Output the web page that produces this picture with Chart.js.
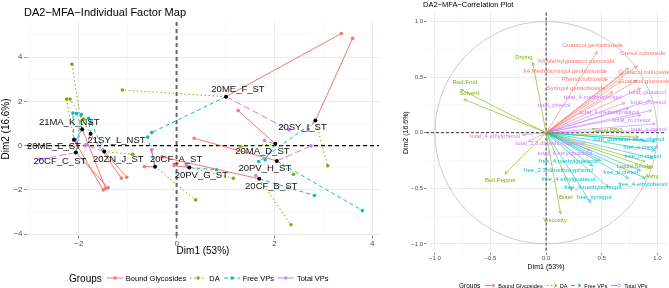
<!DOCTYPE html>
<html>
<head>
<meta charset="utf-8">
<script src="https://cdn.jsdelivr.net/npm/chart.js@4.4.1/dist/chart.umd.min.js"></script>
<style>
body { margin:0; width:669px; height:288px; position:relative; background:#fff; overflow:hidden;
       font-family:"Liberation Sans", Arial, sans-serif; }
#leftWrap { position:absolute; left:0; top:0; width:385px; height:288px; }
#rightWrap { position:absolute; left:385px; top:0; width:284px; height:288px; }
.title { position:absolute; white-space:nowrap; color:#000; }
.legend { position:absolute; display:flex; align-items:center; white-space:nowrap; color:#000; }
.legend svg { display:block; }
</style>
</head>
<body>
<div id="leftWrap"><canvas id="mapChart"></canvas></div>
<div id="rightWrap"><canvas id="corChart"></canvas></div>
<div class="title" style="left:24px;top:6px;font-size:11px;line-height:13px">DA2−MFA−Individual Factor Map</div>
<div class="title" style="left:423px;top:0px;font-size:7.5px;line-height:9px">DA2−MFA−Correlation Plot</div>
<div class="legend" id="leftLegend" style="left:69px;top:272px;height:12px"></div>
<div class="legend" id="rightLegend" style="left:459px;top:281px;height:9px"></div>
<script>
// ====== DATA ======
const groupNames = ["Bound Glycosides", "DA", "Free VPs", "Total VPs"];
const groupColors = ["#F8766D", "#7CAE00", "#00BFC4", "#C77CFF"];
const groupDash = [[], [1.5, 2.5], [4, 3], [7, 3]];

// individuals (group centroids)
const individuals = ["21MA_K_NST", "21SY_L_NST", "20ME_E_ST", "20CF_C_ST", "20ZN_J_ST", "20CF_A_ST",
                     "20PV_G_ST", "20ME_F_ST", "20SY_I_ST", "20MA_D_ST", "20PV_H_ST", "20CF_B_ST"];
const indDim1 = [-1.93, -1.76, -2.10, -2.06, -1.48, -0.44, 0.26, 1.01, 2.84, 2.02, 2.05, 1.69];
const indDim2 = [0.74, 0.53, 0.26, -0.31, -0.27, -0.95, -0.99, 2.21, 1.13, 0.08, -0.69, -1.50];
// label nudges in px (text centre relative to point)
const indLabelDx = [-13, 26, -20, -16, 14, 21, 12, 12, -13, -13, -12, 12];
const indLabelDy = [-7, 7, 7, 9, 8, -7, 8, -7, 7, 8, 7, 8];

// partial points per group
const boundDim1 = [-1.45, -1.13, -1.50, -1.40, -1.02, -0.66, -0.05, 3.37, 3.60, 1.26, 0.36, -0.30];
const boundDim2 = [-1.93, -1.47, -2.00, -1.90, -1.43, -0.95, -0.90, 5.06, 4.84, 1.58, 0.33, -0.51];
const daDim1 = [-2.14, -2.18, -2.25, -1.90, -0.90, 0.39, 1.16, -1.11, 3.09, 1.30, 2.39, 2.34];
const daDim2 = [3.67, 2.10, 2.10, 1.20, -0.39, -2.45, -1.47, 2.51, -0.91, -0.04, -1.29, -3.57];
const freeDim1 = [-2.05, -1.80, -2.12, -1.95, -1.75, -0.59, 0.82, -0.51, 1.68, 1.81, 3.80, 2.82];
const freeDim2 = [1.45, 1.23, 1.47, 1.40, 1.05, 0.39, -1.09, 0.59, -0.72, -0.64, -2.93, -2.25];
const totalDim1 = [-2.07, -1.84, -2.05, -2.80, -1.86, -0.51, 0.20, 2.30, 2.69, 1.80, 2.75, 1.62];
const totalDim2 = [0.25, 0.05, 0.15, -0.62, 0.02, -0.19, -0.90, 0.71, 0.71, 0.23, -0.01, -1.35];

const mapXTicks = [-3, -2, -1, 0, 1, 2, 3, 4];
const mapXLabels = ["", "−2", "", "0", "", "2", "", "4"];
const mapYTicks = [-4, -3, -2, -1, 0, 1, 2, 3, 4, 5];
const mapYLabels = ["−4", "", "−2", "", "0", "", "2", "", "4", ""];

// correlation circle variables
const boundVars = ["Guaiacol.gentiobioside", "Cresol.rutinoside", "X4.Methylguaiacol.rutinoside",
  "X4.Methylsyringol.gentiobioside", "Guaiacol.rutinoside", "Phenol.rutinoside", "Guaiacol.glucoside",
  "Syringol.gentiobioside"];
const boundVarDim1 = [0.46, 0.82, 0.74, 0.69, 0.82, 0.67, 0.85, 0.60];
const boundVarDim2 = [0.73, 0.60, 0.58, 0.53, 0.47, 0.46, 0.40, 0.37];
const boundLabDim1 = [0.42, 0.87, 0.27, 0.17, 0.88, 0.35, 0.89, 0.27];
const boundLabDim2 = [0.79, 0.71, 0.64, 0.55, 0.54, 0.48, 0.46, 0.40];

const daVars = ["Drying", "Red.Fruit", "Solvent", "Bell.Pepper", "Bitter", "Viscosity", "Ashy",
  "Liquid.Smoke", "Sweet.BBQ"];
const daVarDim1 = [-0.12, -0.77, -0.74, -0.37, 0.23, 0.13, 0.94, 0.89, 0.83];
const daVarDim2 = [0.63, 0.39, 0.30, -0.37, -0.52, -0.73, -0.32, -0.26, -0.04];
const daLabDim1 = [-0.20, -0.73, -0.69, -0.41, 0.18, 0.08, 0.95, 0.80, 0.55];
const daLabDim2 = [0.68, 0.45, 0.35, -0.43, -0.58, -0.79, -0.39, -0.30, 0.02];

const freeVars = ["free_guaiacol", "free_phenol", "free_o.cresol", "free_m.cresol", "free_4.methylguaiacol",
  "free_2.3.dimethoxyphenol", "free_p.cresol", "free_4.ethylguaiacol", "free_4.ethylphenol",
  "free_4.methylsyringol", "free_syringol"];
const freeVarDim1 = [0.89, 0.98, 0.98, 0.96, 0.49, 0.42, 0.85, 0.74, 0.89, 0.56, 0.40];
const freeVarDim2 = [-0.07, -0.08, -0.16, -0.23, -0.25, -0.30, -0.34, -0.41, -0.41, -0.49, -0.63];
const freeLabDim1 = [0.59, 0.92, 0.85, 0.87, 0.20, 0.11, 0.67, 0.20, 0.87, 0.42, 0.43];
const freeLabDim2 = [-0.06, -0.06, -0.13, -0.21, -0.26, -0.34, -0.36, -0.42, -0.46, -0.49, -0.58];

const totalVars = ["total_guaiacol", "total_4.methylsyringol", "total_phenol", "total_p.cresol",
  "total_4.methylguaiacol", "total_m.cresol", "total_o.cresol", "total_4.ethylphenol",
  "total_2.3.dimethoxyphenol", "total_4.ethylguaiacol"];
const totalVarDim1 = [0.94, 0.71, 0.74, 0.95, 0.85, 0.98, 1.00, -0.21, -0.16, 0.40];
const totalVarDim2 = [0.29, 0.27, 0.22, 0.20, 0.16, 0.08, 0.02, -0.02, -0.08, -0.16];
const totalLabDim1 = [0.91, 0.42, 0.07, 0.92, 0.57, 0.77, 0.92, -0.46, 0.04, 0.17];
const totalLabDim2 = [0.36, 0.32, 0.25, 0.27, 0.18, 0.11, 0.03, -0.03, -0.10, -0.19];

const corTicks = [-1, -0.75, -0.5, -0.25, 0, 0.25, 0.5, 0.75, 1];
const corLabels = ["−1.0", "", "−0.5", "", "0.0", "", "0.5", "", "1.0"];

Chart.defaults.font.family = '"Liberation Sans", Arial, sans-serif';
Chart.defaults.animation = false;

// ====== HELPERS ======
function gridOpts(labels, tickLen) {
  return {
    color: ctx => labels[ctx.index] ? "#e6e6e6" : "#f3f3f3",
    lineWidth: ctx => labels[ctx.index] ? 0.8 : 0.5,
    tickColor: ctx => labels[ctx.index] ? "#333" : "rgba(0,0,0,0)",
    tickLength: tickLen,
    tickWidth: 0.6
  };
}

// dashed lines through origin
const zeroLines = {
  id: "zeroLines",
  beforeDatasetsDraw(chart, args, opts) {
    const {ctx, chartArea: a, scales: {x, y}} = chart;
    const x0 = x.getPixelForValue(0), y0 = y.getPixelForValue(0);
    ctx.save();
    ctx.strokeStyle = opts.vColor; ctx.lineWidth = opts.vWidth; ctx.setLineDash(opts.dash);
    ctx.beginPath(); ctx.moveTo(x0, a.top); ctx.lineTo(x0, a.bottom); ctx.stroke();
    ctx.strokeStyle = opts.hColor; ctx.lineWidth = opts.hWidth;
    ctx.beginPath(); ctx.moveTo(a.left, y0); ctx.lineTo(a.right, y0); ctx.stroke();
    if (opts.circle) {
      ctx.setLineDash([]);
      ctx.strokeStyle = "#aaaaaa"; ctx.lineWidth = 0.6;
      const r = x.getPixelForValue(1) - x0;
      ctx.beginPath(); ctx.arc(x0, y0, r, 0, Math.PI * 2); ctx.stroke();
    }
    ctx.restore();
  }
};

// ====== LEFT: INDIVIDUAL FACTOR MAP ======
function partialData(px, py) {
  const pts = [];
  individuals.forEach((n, i) => {
    pts.push({x: indDim1[i], y: indDim2[i]});
    pts.push({x: px[i], y: py[i]});
    pts.push({x: px[i], y: null});
  });
  return pts;
}
const partials = [[boundDim1, boundDim2], [daDim1, daDim2], [freeDim1, freeDim2], [totalDim1, totalDim2]];

const indLabels = {
  id: "indLabels",
  afterDatasetsDraw(chart) {
    const {ctx, scales: {x, y}} = chart;
    ctx.save();
    ctx.font = '9.5px "Liberation Sans", Arial, sans-serif';
    ctx.fillStyle = "#111";
    ctx.textAlign = "center"; ctx.textBaseline = "middle";
    individuals.forEach((n, i) => {
      ctx.fillText(n, x.getPixelForValue(indDim1[i]) + indLabelDx[i], y.getPixelForValue(indDim2[i]) + indLabelDy[i]);
    });
    ctx.restore();
  }
};

const mapDatasets = [{
  label: "Individuals",
  data: individuals.map((n, i) => ({x: indDim1[i], y: indDim2[i]})),
  pointRadius: 2, pointBackgroundColor: "#000", pointBorderWidth: 0, showLine: false
}];
groupNames.forEach((g, k) => {
  mapDatasets.push({
    label: g,
    data: partialData(partials[k][0], partials[k][1]),
    showLine: true,
    borderColor: groupColors[k], backgroundColor: groupColors[k],
    borderWidth: 1, borderDash: groupDash[k],
    pointRadius: c => c.index % 3 === 1 ? 1.8 : 0,
    pointBorderWidth: 0
  });
});

new Chart(document.getElementById("mapChart"), {
  type: "scatter",
  data: {datasets: mapDatasets},
  options: {
    responsive: true, maintainAspectRatio: false,
    layout: {padding: {top: 22, right: 6, bottom: 30.3, left: 0}},
    plugins: {
      legend: {display: false}, tooltip: {enabled: false},
      zeroLines: {vColor: "#666", vWidth: 2, hColor: "#000", hWidth: 1.1, dash: [4, 3]}
    },
    scales: {
      x: {
        type: "linear", min: -3.06, max: 4.14,
        afterBuildTicks: s => { s.ticks = mapXTicks.map(v => ({value: v})); },
        afterFit: s => { s.height = 21.7; },
        ticks: {autoSkip: false, maxRotation: 0, padding: 0, color: "#4d4d4d", font: {size: 8},
                callback: (v, i) => mapXLabels[i]},
        grid: gridOpts(mapXLabels, 2.5), border: {display: false},
        title: {display: true, text: "Dim1 (53%)", color: "#000", font: {size: 10}, padding: 0}
      },
      y: {
        type: "linear", min: -4.08, max: 5.58,
        afterBuildTicks: s => { s.ticks = mapYTicks.map(v => ({value: v})); },
        afterFit: s => { s.width = 27; },
        ticks: {autoSkip: false, padding: 2, color: "#4d4d4d", font: {size: 8},
                callback: (v, i) => mapYLabels[i]},
        grid: gridOpts(mapYLabels, 2.5), border: {display: false},
        title: {display: true, text: "Dim2 (16.6%)", color: "#000", font: {size: 10}, padding: {top: 0}}
      }
    }
  },
  plugins: [zeroLines, indLabels]
});

// ====== RIGHT: CORRELATION PLOT ======
const corGroups = [
  [boundVars, boundVarDim1, boundVarDim2, boundLabDim1, boundLabDim2],
  [daVars, daVarDim1, daVarDim2, daLabDim1, daLabDim2],
  [freeVars, freeVarDim1, freeVarDim2, freeLabDim1, freeLabDim2],
  [totalVars, totalVarDim1, totalVarDim2, totalLabDim1, totalLabDim2]
];

function arrowData(d1, d2) {
  const pts = [];
  d1.forEach((v, i) => {
    pts.push({x: 0, y: 0});
    pts.push({x: d1[i], y: d2[i]});
    pts.push({x: 0, y: null});
  });
  return pts;
}

const arrowHeads = {
  id: "arrowHeads",
  afterDatasetsDraw(chart) {
    const {ctx, scales: {x, y}} = chart;
    const x0 = x.getPixelForValue(0), y0 = y.getPixelForValue(0);
    ctx.save();
    ctx.lineWidth = 0.6;
    corGroups.forEach((grp, k) => {
      ctx.strokeStyle = groupColors[k];
      grp[1].forEach((v, i) => {
        const tx = x.getPixelForValue(grp[1][i]), ty = y.getPixelForValue(grp[2][i]);
        const ang = Math.atan2(ty - y0, tx - x0);
        ctx.beginPath();
        ctx.moveTo(tx - 3.5 * Math.cos(ang - 0.45), ty - 3.5 * Math.sin(ang - 0.45));
        ctx.lineTo(tx, ty);
        ctx.lineTo(tx - 3.5 * Math.cos(ang + 0.45), ty - 3.5 * Math.sin(ang + 0.45));
        ctx.stroke();
      });
    });
    ctx.font = '6px "Liberation Sans", Arial, sans-serif';
    ctx.textAlign = "center"; ctx.textBaseline = "middle";
    corGroups.forEach((grp, k) => {
      ctx.fillStyle = groupColors[k];
      grp[0].forEach((n, i) => {
        ctx.fillText(n, x.getPixelForValue(grp[3][i]), y.getPixelForValue(grp[4][i]));
      });
    });
    ctx.restore();
  }
};

new Chart(document.getElementById("corChart"), {
  type: "scatter",
  data: {
    datasets: corGroups.map((grp, k) => ({
      label: groupNames[k],
      data: arrowData(grp[1], grp[2]),
      showLine: true, borderColor: groupColors[k], borderWidth: 0.6, pointRadius: 0
    }))
  },
  options: {
    responsive: true, maintainAspectRatio: false,
    layout: {padding: {top: 12.6, right: 2.8, bottom: 17.1, left: 0}},
    plugins: {
      legend: {display: false}, tooltip: {enabled: false},
      zeroLines: {vColor: "#000", vWidth: 0.8, hColor: "#000", hWidth: 0.8, dash: [3, 2], circle: true}
    },
    scales: {
      x: {
        type: "linear", min: -1.08, max: 1.08,
        afterBuildTicks: s => { s.ticks = corTicks.map(v => ({value: v})); },
        afterFit: s => { s.height = 18.1; },
        ticks: {autoSkip: false, maxRotation: 0, padding: 0, color: "#4d4d4d", font: {size: 6},
                callback: (v, i) => corLabels[i]},
        grid: gridOpts(corLabels, 2), border: {display: false},
        title: {display: true, text: "Dim1 (53%)", color: "#000", font: {size: 7}, padding: 0}
      },
      y: {
        type: "linear", min: -1.08, max: 1.08,
        afterBuildTicks: s => { s.ticks = corTicks.map(v => ({value: v})); },
        afterFit: s => { s.width = 41; },
        ticks: {autoSkip: false, padding: 1, color: "#4d4d4d", font: {size: 6},
                callback: (v, i) => corLabels[i]},
        grid: gridOpts(corLabels, 2), border: {display: false},
        title: {display: true, text: "Dim2 (16.6%)", color: "#000", font: {size: 7}, padding: {top: 17}}
      }
    }
  },
  plugins: [zeroLines, arrowHeads]
});

// ====== LEGENDS ======
function buildLegend(el, titleSize, itemSize, keyW, gap, withDot) {
  let html = `<span style="font-size:${titleSize}px;margin-right:${gap + 1}px">Groups</span>`;
  groupNames.forEach((g, k) => {
    const h = Math.round(titleSize);
    const dash = groupDash[k].length ? `stroke-dasharray="${groupDash[k].join(" ")}"` : "";
    const dot = withDot ? `<circle cx="${keyW / 2}" cy="${h / 2}" r="${withDot}" fill="${groupColors[k]}"/>` : "";
    const arrow = withDot ? "" :
      `<polyline points="${keyW - 3},${h / 2 - 2} ${keyW},${h / 2} ${keyW - 3},${h / 2 + 2}" fill="none" stroke="${groupColors[k]}" stroke-width="0.8"/>`;
    html += `<svg width="${keyW}" height="${h}"><line x1="0" y1="${h / 2}" x2="${keyW}" y2="${h / 2}" stroke="${groupColors[k]}" stroke-width="1" ${dash}/>${dot}${arrow}</svg>`;
    html += `<span style="font-size:${itemSize}px;margin:0 ${gap}px 0 3px">${g}</span>`;
  });
  el.innerHTML = html;
}
buildLegend(document.getElementById("leftLegend"), 10, 7.5, 16, 4, 1.7);
buildLegend(document.getElementById("rightLegend"), 6.5, 5.5, 10, 4, 0);
</script>
</body>
</html>
